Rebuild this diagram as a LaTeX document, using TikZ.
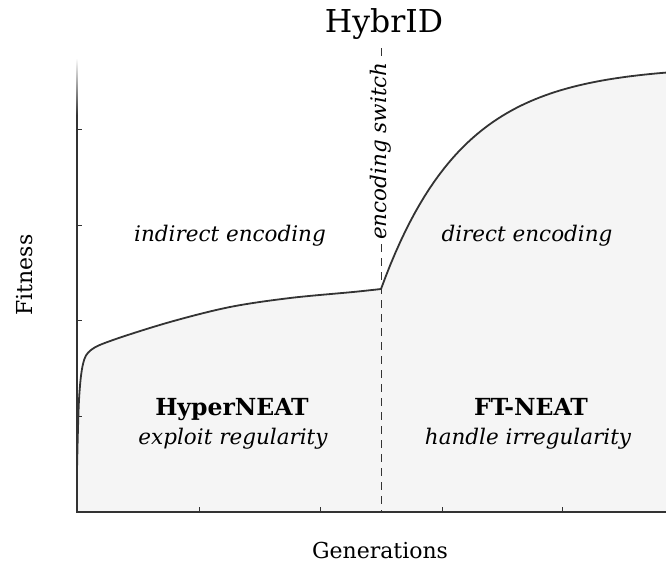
\documentclass[tikz,border=0pt]{standalone}
\usepackage{fontspec}
\setmainfont{DejaVu Serif}
\usetikzlibrary{positioning}
\tikzset{
  curve/.style = {mline, line width = 1.8pt, line join = round},
  axline/.style = {mline, line width = 1.3pt},
  axtick/.style = {mline, line width = 1pt},
  phase/.style = {font = \fontsize{21.5}{26}\selectfont\itshape, anchor = base},
  method/.style = {font = \fontsize{23.5}{28}\selectfont\bfseries, anchor = base},
  axlabel/.style = {font = \fontsize{22}{26}\selectfont},
}
\definecolor{mline}{gray}{0.2}
\definecolor{mfill}{gray}{0.96}

\begin{document}
\begin{tikzpicture}[x=1pt, y=-1pt]
       \useasboundingbox (0, 0) rectangle (666, 563);

       \fill [mfill] (77, 512) -- plot [smooth, tension=0.55] coordinates {(77, 470) (79, 400) (83, 364) (91, 350) (113, 340) (170, 322) (230, 307) (290, 298) (353, 292) (381, 289)}
              -- plot [domain=381:666, samples=60] (\x, {289 - 223*(1 - exp(-(\x - 381)/81))})
              -- (666, 512) -- cycle;

       \coordinate (switchtop) at (381, 48);
       \coordinate (switchbot) at (381, 512);
       \draw [mline, line width = 0.9pt, dash pattern = on 8pt off 6pt] (switchtop) -- (switchbot);

       \draw [curve] plot [smooth, tension=0.55] coordinates {(77, 470) (79, 400) (83, 364) (91, 350) (113, 340) (170, 322) (230, 307) (290, 298) (353, 292) (381, 289)}
              -- plot [domain=381:666, samples=60] (\x, {289 - 223*(1 - exp(-(\x - 381)/81))});

       % axes
       \coordinate (origin) at (77, 512);
       \coordinate (xend) at (666, 512);
       \coordinate (yfade) at (77, 115);
       \draw [axline] (xend) -- (origin) -- (yfade);
       \shade [top color = white, bottom color = mline] (76.35, 58) rectangle (77.65, 115);
       \foreach \y in {129, 225, 320, 416}
              \draw [axtick] (77, \y) -- (82, \y);
       \foreach \x in {199, 320, 442, 562}
              \draw [axtick] (\x, 512) -- (\x, 507);

       \node [font = \fontsize{31.5}{36}\selectfont, anchor = base] (title) at (384, 32) {HybrID};
       \node [axlabel, rotate = 90] (ylabel) at (25, 275) {Fitness};
       \node [axlabel, anchor = base] (xlabel) at (380, 558) {Generations};

       \node [phase] (indirect) at (230, 241) {indirect encoding};
       \node [phase] (direct) at (527, 241) {direct encoding};
       \node [phase, anchor = center, rotate = 90, fill = white, inner sep = 1.5pt] (switch) at (381, 151) {encoding switch};

       \node [method] (hyperneat) at (232, 415) {HyperNEAT};
       \node [phase] (exploit) at (233, 444) {exploit regularity};
       \node [method] (ftneat) at (531, 415) {FT-NEAT};
       \node [phase] (handle) at (528, 444) {handle irregularity};
\end{tikzpicture}
\end{document}
